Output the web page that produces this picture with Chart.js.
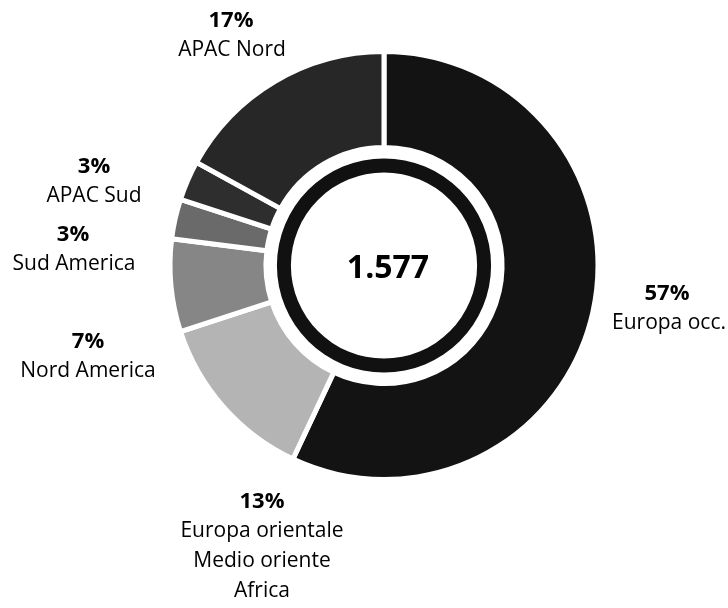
<!DOCTYPE html>
<html>
<head>
<meta charset="utf-8">
<title>Ripartizione per area</title>
<script src="https://cdn.jsdelivr.net/npm/chart.js@4/dist/chart.umd.min.js"></script>
<style>
  html, body { margin: 0; padding: 0; background: #fff; }
  #wrap { width: 728px; height: 608px; position: relative; }
</style>
</head>
<body>
<div id="wrap"><canvas id="chart" width="728" height="608"></canvas></div>
<script>
// areas, clockwise from 12 o'clock
const areas = ['Europa occ.', 'Europa orientale|Medio oriente|Africa', 'Nord America', 'Sud America', 'APAC Sud', 'APAC Nord'];
const shares = [57, 13, 7, 3, 3, 17];
const totalLabel = '1.577';

const sliceColors = ['#131313', '#b4b4b4', '#868686', '#6a6a6a', '#2e2e2e', '#272727'];

// label placement relative to the centre of the ring: [dx, dy] of the percent line
const labelOffsets = [
  [283, 28],
  [-122, 236],
  [-296, 76],
  [-311, -31],
  [-290, -99],
  [-153, -245]
];
// horizontal shift of the name lines against the percent line
const nameShift = [2, 0, 0, 1, 0, 1];

const labelPlugin = {
  id: 'areaLabels',
  afterDraw(chart) {
    const arc = chart.getDatasetMeta(0).data[0];
    const cx = arc.x, cy = arc.y;
    const ctx = chart.ctx;
    ctx.save();
    ctx.fillStyle = '#000';
    ctx.textAlign = 'center';
    ctx.textBaseline = 'middle';

    areas.forEach((name, i) => {
      const x = cx + labelOffsets[i][0];
      const y = cy + labelOffsets[i][1];
      ctx.font = 'bold 22px "Open Sans"';
      ctx.fillText(shares[i] + '%', x, y);
      ctx.font = '21px "Open Sans"';
      name.split('|').forEach((line, k) => {
        ctx.fillText(line, x + nameShift[i], y + 30 + k * 30);
      });
    });

    ctx.font = 'bold 32px "Open Sans"';
    ctx.fillText(totalLabel, cx + 4, cy + 3);
    ctx.restore();
  }
};

new Chart(document.getElementById('chart'), {
  type: 'doughnut',
  data: {
    labels: areas,
    datasets: [
      {
        data: shares,
        backgroundColor: sliceColors,
        borderColor: '#fff',
        borderWidth: 5,
        weight: 96
      },
      {
        // empty band between slices and inner ring
        data: [1],
        backgroundColor: 'rgba(0,0,0,0)',
        borderWidth: 0,
        weight: 11
      },
      {
        data: [1],
        backgroundColor: '#111',
        borderWidth: 0,
        weight: 14
      }
    ]
  },
  options: {
    responsive: false,
    animation: false,
    radius: 214,
    cutout: '43.5%',
    layout: { padding: { left: 60, right: 20, top: 20, bottom: 97 } },
    plugins: {
      legend: { display: false },
      tooltip: { enabled: false }
    }
  },
  plugins: [labelPlugin]
});
</script>
</body>
</html>
